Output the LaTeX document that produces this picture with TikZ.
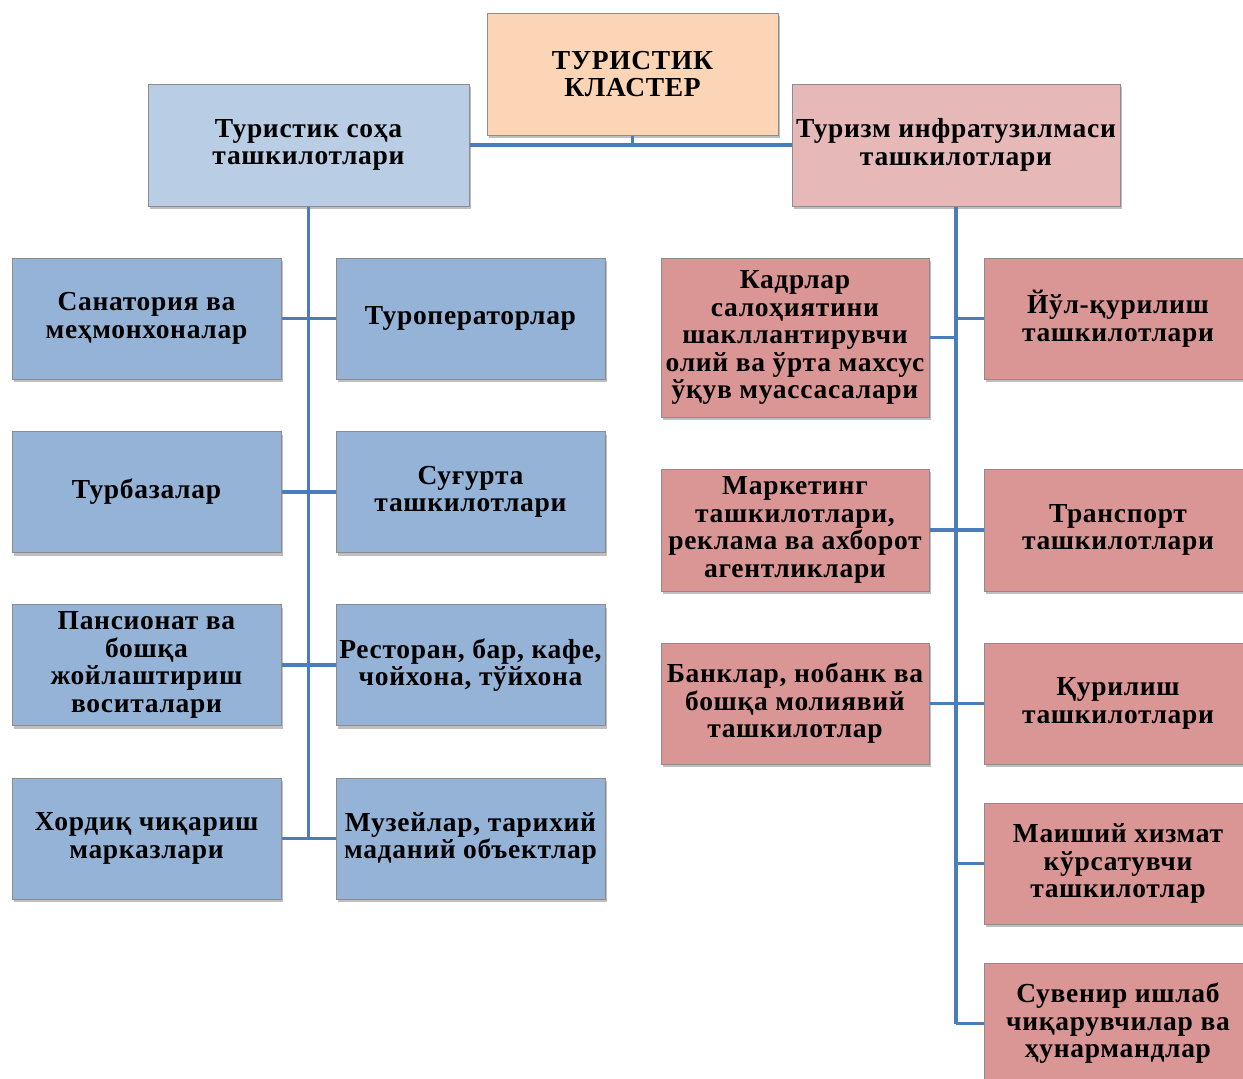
\documentclass[tikz,border=0pt]{standalone}
\usepackage{fontspec}
\setmainfont{Liberation Serif}[LetterSpace=2.5]
\usetikzlibrary{shadows}
\definecolor{linec}{HTML}{4A7EBB}
\definecolor{topc}{HTML}{FBD5B5}
\definecolor{lonec}{HTML}{B9CDE5}
\definecolor{ronec}{HTML}{E6B9B8}
\definecolor{lchild}{HTML}{95B3D7}
\definecolor{rchild}{HTML}{D99694}
\definecolor{bordc}{HTML}{8C8C8C}
\tikzset{
  box/.style={draw=bordc, line width=1pt, align=center, inner sep=0pt,
    font=\bfseries\fontsize{27.5}{27.5}\selectfont, text=black,
    drop shadow={shadow xshift=2pt, shadow yshift=-3pt, fill=black, opacity=0.25}},
  conn/.style={draw=linec, line width=3.5pt},
}
\begin{document}
\begin{tikzpicture}[x=1pt,y=-1pt]
\useasboundingbox (0,0) rectangle (1243,1079);
\clip (0,0) rectangle (1243,1079);
\fill[white] (0,0) rectangle (1243,1079);
% nodes
\node[box, fill=topc, minimum width=291pt, minimum height=122pt] (top) at (632.5,74) {ТУРИСТИК\\КЛАСТЕР};
\node[box, fill=lonec, minimum width=321pt, minimum height=122pt] (L) at (308.5,145) {Туристик соҳа\\ташкилотлари};
\node[box, fill=ronec, minimum width=328pt, minimum height=122pt] (R) at (956,145) {Туризм инфратузилмаси\\ташкилотлари};
% left children
\node[box, fill=lchild, minimum width=269pt, minimum height=121pt] (l1) at (146.5,318.5) {Санатория ва\\меҳмонхоналар};
\node[box, fill=lchild, minimum width=269pt, minimum height=121pt] (l2) at (470.5,318.5) {Туроператорлар};
\node[box, fill=lchild, minimum width=269pt, minimum height=121pt] (l3) at (146.5,492) {Турбазалар};
\node[box, fill=lchild, minimum width=269pt, minimum height=121pt] (l4) at (470.5,492) {Суғурта\\ташкилотлари};
\node[box, fill=lchild, minimum width=269pt, minimum height=121pt] (l5) at (146.5,665) {Пансионат ва\\бошқа\\жойлаштириш\\воситалари};
\node[box, fill=lchild, minimum width=269pt, minimum height=121pt] (l6) at (470.5,665) {Ресторан, бар, кафе,\\чойхона, тўйхона};
\node[box, fill=lchild, minimum width=269pt, minimum height=121pt] (l7) at (146.5,838.5) {Хордиқ чиқариш\\марказлари};
\node[box, fill=lchild, minimum width=269pt, minimum height=121pt] (l8) at (470.5,838.5) {Музейлар, тарихий\\маданий объектлар};
% right children
\node[box, fill=rchild, minimum width=268pt, minimum height=159pt] (r1) at (795,337.5) {Кадрлар\\салоҳиятини\\шакллантирувчи\\олий ва ўрта махсус\\ўқув муассасалари};
\node[box, fill=rchild, minimum width=268pt, minimum height=121pt] (r2) at (1118,318.5) {Йўл-қурилиш\\ташкилотлари};
\node[box, fill=rchild, minimum width=268pt, minimum height=122pt] (r3) at (795,530) {Маркетинг\\ташкилотлари,\\реклама ва ахборот\\агентликлари};
\node[box, fill=rchild, minimum width=268pt, minimum height=122pt] (r4) at (1118,530) {Транспорт\\ташкилотлари};
\node[box, fill=rchild, minimum width=268pt, minimum height=121pt] (r5) at (795,703.5) {Банклар, нобанк ва\\бошқа молиявий\\ташкилотлар};
\node[box, fill=rchild, minimum width=268pt, minimum height=121pt] (r6) at (1118,703.5) {Қурилиш\\ташкилотлари};
\node[box, fill=rchild, minimum width=268pt, minimum height=121pt] (r7) at (1118,863.5) {Маиший хизмат\\кўрсатувчи\\ташкилотлар};
\node[box, fill=rchild, minimum width=268pt, minimum height=121pt] (r8) at (1118,1023.5) {Сувенир ишлаб\\чиқарувчилар ва\\ҳунармандлар};
% connectors
\draw[conn] (top.south) -- (top.south |- L.east);
\draw[conn] (L.east) -- (R.west);
\draw[conn] (L.south) -- (L.south |- l7.east);
\draw[conn] (l1.east) -- (l2.west);
\draw[conn] (l3.east) -- (l4.west);
\draw[conn] (l5.east) -- (l6.west);
\draw[conn] (l7.east) -- (l8.west);
\draw[conn] (R.south) -- (R.south |- r8.west);
\draw[conn] (r1.east) -- (r1.east -| R.south);
\draw[conn] (r2.west) -- (r2.west -| R.south);
\draw[conn] (r3.east) -- (r4.west);
\draw[conn] (r5.east) -- (r6.west);
\draw[conn] (r7.west) -- (r7.west -| R.south);
\draw[conn] (r8.west) -- (r8.west -| R.south);
\end{tikzpicture}
\end{document}
